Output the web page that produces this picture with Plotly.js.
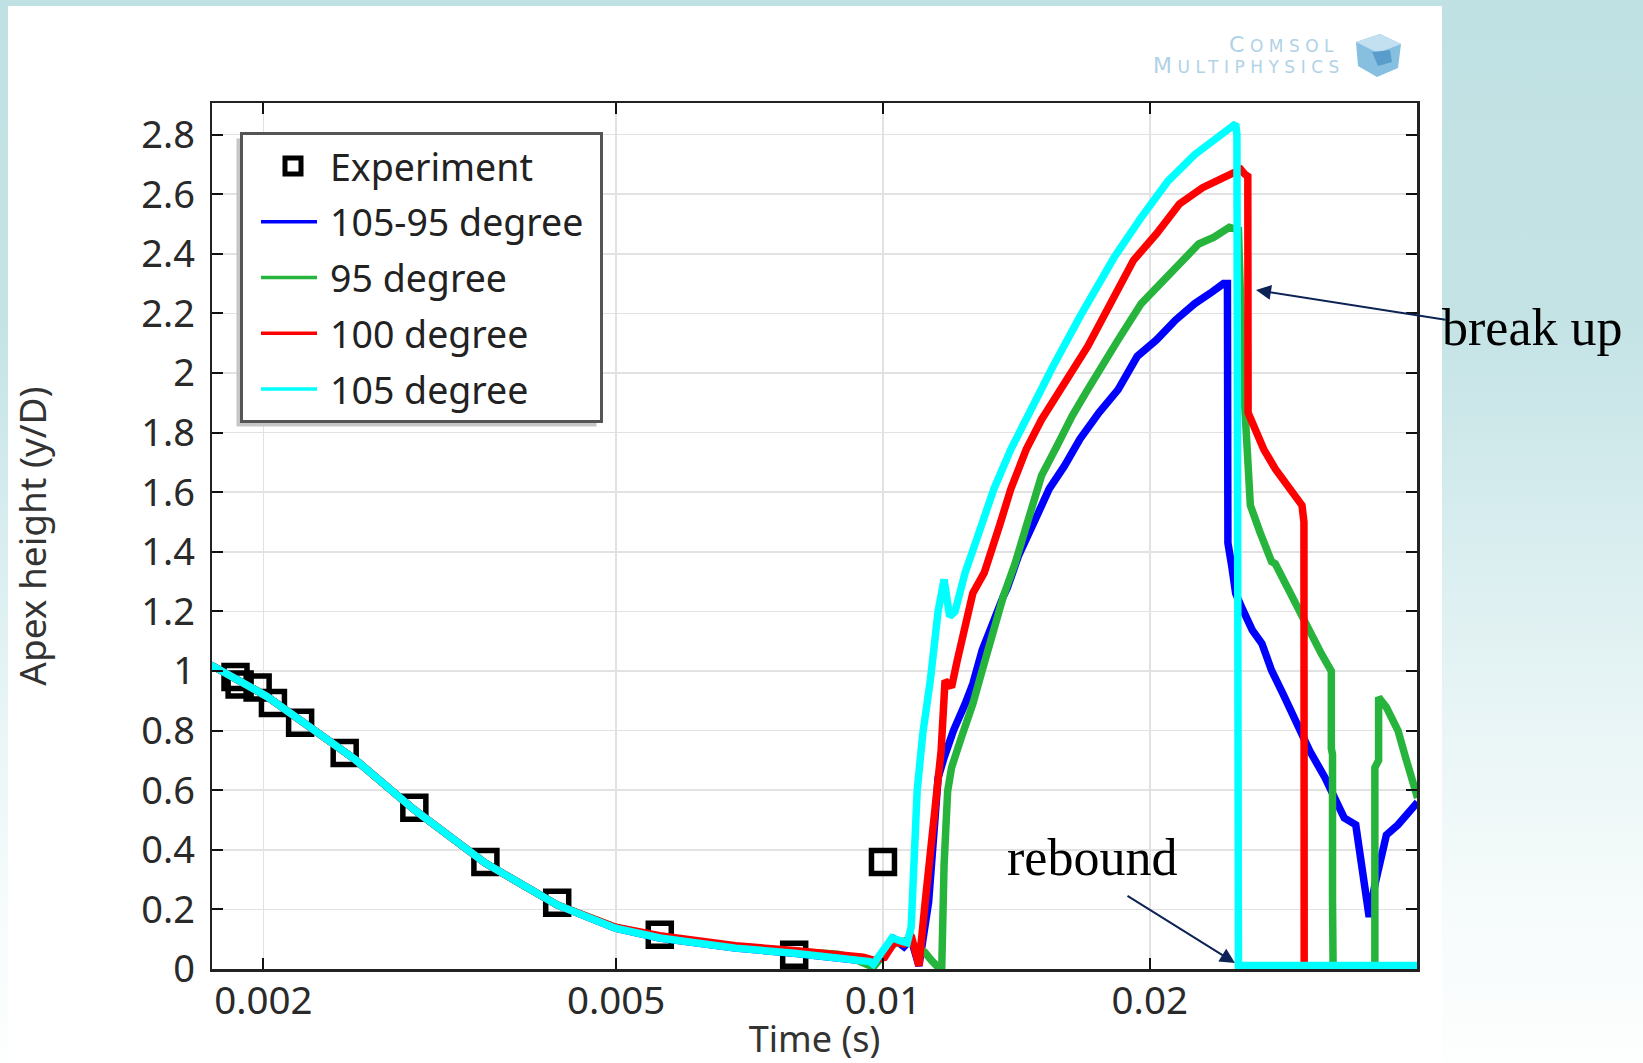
<!DOCTYPE html>
<html>
<head>
<meta charset="utf-8">
<script src="https://cdn.plot.ly/plotly-3.0.1.min.js"></script>
<style>
  html, body { margin:0; padding:0; }
  body {
    width:1643px; height:1063px; overflow:hidden; position:relative;
    background: linear-gradient(to bottom, #c0e1e3 0%, #c4e3e5 30%, #d6ecee 48%, #e9f5f6 68%, #f6fbfb 85%, #fdfefe 100%);
  }
  #panel { position:absolute; left:8px; top:6px; width:1434px; height:1057px; background:#ffffff; }
  #chart { position:absolute; left:0; top:0; width:1643px; height:1063px; }
</style>
</head>
<body>
<div id="panel"></div>
<div id="chart"></div>
<script>
// ---------------- data ----------------
const expTime = [0.00186, 0.00188, 0.00197, 0.00205, 0.00220, 0.00247, 0.00296, 0.00356, 0.00429, 0.00560, 0.00794, 0.01000];
const expHeight = [0.98, 0.955, 0.945, 0.893, 0.826, 0.725, 0.541, 0.359, 0.222, 0.115, 0.048, 0.359];

const blueTime = [0.00174, 0.00176, 0.00202, 0.00226, 0.00254, 0.00296, 0.00356, 0.00429, 0.00499, 0.00560, 0.00682, 0.00794, 0.00890, 0.00966, 0.00975,
  0.01000, 0.01030, 0.01056, 0.01076, 0.01098, 0.01126, 0.01137, 0.01154, 0.01172, 0.01201, 0.01238, 0.01263, 0.01294, 0.01327, 0.01367,
  0.01381, 0.01423, 0.01481, 0.01540, 0.01603, 0.01668, 0.01753, 0.01842, 0.01936, 0.02035, 0.02139, 0.02248, 0.02338, 0.02422, 0.02447,
  0.02450, 0.02475, 0.02500, 0.02547, 0.02610, 0.02676, 0.02744, 0.02827, 0.02926, 0.03030, 0.03153, 0.03249, 0.03314, 0.03415, 0.03448,
  0.03500, 0.03536, 0.03589, 0.03662, 0.03698, 0.03811, 0.03926, 0.03986, 0.04010];
const blueHeight = [1.02, 1.014, 0.914, 0.813, 0.702, 0.534, 0.355, 0.215, 0.137, 0.104, 0.070, 0.053, 0.040, 0.025, 0.016,
  0.050, 0.100, 0.075, 0.100, 0.010, 0.225, 0.394, 0.642, 0.709, 0.800, 0.890, 0.957, 1.070, 1.160, 1.250,
  1.278, 1.389, 1.500, 1.611, 1.689, 1.778, 1.867, 1.944, 2.056, 2.111, 2.178, 2.233, 2.267, 2.300, 2.300,
  1.430, 1.350, 1.260, 1.205, 1.137, 1.092, 1.002, 0.923, 0.822, 0.732, 0.642, 0.552, 0.507, 0.484, 0.394,
  0.282, 0.175, 0.282, 0.417, 0.450, 0.484, 0.529, 0.552, 0.560];

const greenTime = [0.00174, 0.00176, 0.00202, 0.00226, 0.00254, 0.00296, 0.00356, 0.00429, 0.00499, 0.00560, 0.00682, 0.00794, 0.00890, 0.00917, 0.00975,
  0.01007, 0.01029, 0.01065, 0.01092, 0.01115, 0.01135, 0.01154, 0.01165, 0.01172, 0.01183, 0.01195, 0.01226, 0.01263, 0.01294, 0.01327,
  0.01367, 0.01409, 0.01466, 0.01510, 0.01572, 0.01635, 0.01702, 0.01770, 0.01842, 0.01956, 0.02077, 0.02183, 0.02271, 0.02363, 0.02459,
  0.02518, 0.02533, 0.02547, 0.02572, 0.02597, 0.02662, 0.02744, 0.02771, 0.02854, 0.02941, 0.03030, 0.03123, 0.03186, 0.03205, 0.03205,
  0.03215, 0.03215, 0.03220, 0.03589, 0.03589, 0.03624, 0.03624, 0.03698, 0.03811, 0.03887, 0.03966, 0.04010];
const greenHeight = [1.02, 1.014, 0.914, 0.813, 0.702, 0.534, 0.355, 0.215, 0.140, 0.108, 0.076, 0.060, 0.050, 0.040, 0.006,
  0.056, 0.084, 0.096, 0.073, 0.056, 0.028, 0.006, 0.006, 0.349, 0.597, 0.676, 0.777, 0.890, 1.002, 1.115,
  1.250, 1.360, 1.522, 1.656, 1.756, 1.856, 1.944, 2.033, 2.111, 2.233, 2.311, 2.378, 2.433, 2.456, 2.489,
  2.480, 2.120, 2.000, 1.778, 1.556, 1.467, 1.367, 1.360, 1.284, 1.205, 1.137, 1.058, 1.013, 1.000, 0.740,
  0.720, 0.236, 0.005, 0.005, 0.676, 0.700, 0.912, 0.878, 0.800, 0.710, 0.620, 0.574];

const redTime = [0.00174, 0.00176, 0.00202, 0.00226, 0.00254, 0.00296, 0.00356, 0.00429, 0.00499, 0.00560, 0.00682, 0.00794, 0.00890, 0.00950, 0.00975,
  0.01004, 0.01030, 0.01056, 0.01076, 0.01098, 0.01115, 0.01131, 0.01148, 0.01163, 0.01175, 0.01195, 0.01213, 0.01238, 0.01263, 0.01301,
  0.01314, 0.01354, 0.01394, 0.01451, 0.01510, 0.01603, 0.01702, 0.01806, 0.01917, 0.02035, 0.02160, 0.02294, 0.02435, 0.02484, 0.02533,
  0.02560, 0.02580, 0.02582, 0.02610, 0.02689, 0.02771, 0.02854, 0.02970, 0.02985, 0.02987];
const redHeight = [1.02, 1.014, 0.914, 0.813, 0.702, 0.534, 0.355, 0.215, 0.140, 0.112, 0.078, 0.062, 0.050, 0.040, 0.030,
  0.039, 0.090, 0.084, 0.113, 0.011, 0.214, 0.394, 0.574, 0.732, 0.968, 0.946, 1.036, 1.137, 1.261, 1.330,
  1.367, 1.489, 1.611, 1.744, 1.844, 1.967, 2.089, 2.233, 2.378, 2.467, 2.567, 2.622, 2.656, 2.667, 2.683,
  2.667, 2.660, 1.867, 1.833, 1.744, 1.678, 1.622, 1.556, 1.500, 0.005];

const cyanTime = [0.00174, 0.00176, 0.00202, 0.00226, 0.00254, 0.00296, 0.00356, 0.00429, 0.00499, 0.00560, 0.00682, 0.00794, 0.00890, 0.00966, 0.00975,
  0.01024, 0.01045, 0.01065, 0.01076, 0.01082, 0.01093, 0.01109, 0.01131, 0.01154, 0.01165, 0.01172, 0.01180, 0.01189, 0.01206, 0.01238,
  0.01275, 0.01334, 0.01394, 0.01466, 0.01555, 0.01668, 0.01824, 0.01956, 0.02097, 0.02248, 0.02386, 0.02484, 0.02500, 0.02508, 0.02508,
  0.02514, 0.02518, 0.04010];
const cyanHeight = [1.02, 1.014, 0.914, 0.813, 0.702, 0.534, 0.355, 0.215, 0.137, 0.104, 0.070, 0.053, 0.040, 0.025, 0.016,
  0.105, 0.095, 0.088, 0.140, 0.290, 0.600, 0.790, 0.970, 1.200, 1.280, 1.307, 1.250, 1.183, 1.200, 1.330,
  1.440, 1.611, 1.744, 1.878, 2.022, 2.189, 2.389, 2.522, 2.644, 2.733, 2.789, 2.833, 2.836, 2.800, 0.700,
  0.680, 0.012, 0.012];

const seriesNames = ['Experiment', '105-95 degree', '95 degree', '100 degree', '105 degree'];
const xTickVals = [0.002, 0.005, 0.01, 0.02];
const xTickText = ['0.002', '0.005', '0.01', '0.02'];

// ---------------- layout helpers (pixel -> paper) ----------------
const L = 212, T = 103, W = 1205, H = 866;
const px = X => (X - L) / W;
const py = Y => 1 - (Y - T) / H;

const FONT = 'Noto Sans, DejaVu Sans, sans-serif';
const lineW = 7.5;
const LEGEND_EXTRA_W = 11;     // extra right padding of the legend box
const LEGEND_LINE_LEN = 56;    // drawn length of the legend line symbols

const traces = [
  { x: expTime, y: expHeight, name: seriesNames[0], mode: 'markers', type: 'scatter',
    marker: { symbol: 'square-open', size: 23, color: '#000', line: { width: 5.5, color: '#000' } } },
  { x: blueTime, y: blueHeight, name: seriesNames[1], mode: 'lines', type: 'scatter', line: { color: '#0000ff', width: lineW } },
  { x: greenTime, y: greenHeight, name: seriesNames[2], mode: 'lines', type: 'scatter', line: { color: '#27b43c', width: lineW } },
  { x: redTime, y: redHeight, name: seriesNames[3], mode: 'lines', type: 'scatter', line: { color: '#ff0000', width: lineW } },
  { x: cyanTime, y: cyanHeight, name: seriesNames[4], mode: 'lines', type: 'scatter', line: { color: '#00ffff', width: lineW } }
];
traces.forEach((t, i) => { t.legendgroup = 'g' + i; });

function cubePath(pts) {
  return 'M' + pts.map(p => px(p[0]).toFixed(5) + ',' + py(p[1]).toFixed(5)).join('L') + 'Z';
}

const layout = {
  width: 1643, height: 1063,
  margin: { l: L, r: 1643 - L - W, t: T, b: 1063 - T - H, pad: 0 },
  paper_bgcolor: 'rgba(0,0,0,0)',
  plot_bgcolor: '#ffffff',
  showlegend: true,
  legend: {
    x: px(240), y: py(132), xanchor: 'left', yanchor: 'top',
    bgcolor: '#ffffff', bordercolor: '#555555', borderwidth: 3,
    font: { family: FONT, size: 37.5, color: '#222' },
    itemwidth: 64, tracegroupgap: 4, traceorder: 'grouped',
    indentation: 13
  },
  xaxis: {
    type: 'log', range: [-2.757, -1.3975],
    tickvals: xTickVals, ticktext: xTickText,
    ticks: 'inside', ticklen: 11, tickwidth: 2, tickcolor: '#111',
    showline: true, linecolor: '#222', linewidth: 2.5, mirror: 'ticks',
    showgrid: true, gridcolor: '#e2e2e2', gridwidth: 1.5, zeroline: false,
    tickfont: { family: FONT, size: 38.5, color: '#2a2a2a' },
    ticklabelstandoff: -4,
    title: { text: 'Time (s)', font: { family: FONT, size: 36, color: '#333' }, standoff: 22 }
  },
  yaxis: {
    range: [0, 2.906], dtick: 0.2, tick0: 0,
    ticks: 'inside', ticklen: 11, tickwidth: 2, tickcolor: '#111',
    showline: true, linecolor: '#222', linewidth: 2.5, mirror: 'ticks',
    showgrid: true, gridcolor: '#e2e2e2', gridwidth: 1.5, zeroline: false,
    tickfont: { family: FONT, size: 38, color: '#2a2a2a' },
    ticklabelstandoff: 7,
    title: { text: 'Apex height (y/D)', font: { family: FONT, size: 37, color: '#333' }, standoff: 84 }
  },
  shapes: [
    // legend drop shadow (position refined after the legend is measured)
    { type: 'rect', xref: 'paper', yref: 'paper', layer: 'above',
      x0: px(235), x1: px(598), y0: py(430), y1: py(137),
      fillcolor: '#c6c6c6', line: { width: 0 } },
    // COMSOL cube logo
    { type: 'path', xref: 'paper', yref: 'paper', layer: 'above',
      path: cubePath([[1356, 42], [1380, 34], [1401, 44], [1398, 68], [1377, 77], [1358, 66]]),
      fillcolor: '#86bfe0', line: { width: 0 } },
    { type: 'path', xref: 'paper', yref: 'paper', layer: 'above',
      path: cubePath([[1356, 42], [1380, 34], [1401, 44], [1378, 53]]),
      fillcolor: '#c3e0f0', line: { width: 0 } },
    { type: 'path', xref: 'paper', yref: 'paper', layer: 'above',
      path: cubePath([[1372, 52], [1390, 50], [1392, 62], [1378, 66]]),
      fillcolor: '#5a9dcc', line: { width: 0 } }
  ],
  annotations: [
    { xref: 'paper', yref: 'paper', x: px(1341), y: py(45), xanchor: 'right', yanchor: 'middle', showarrow: false,
      text: '<span style="letter-spacing:5.5px"><span style="font-size:22px">C</span>OMSOL</span>',
      font: { family: 'DejaVu Sans', size: 17, color: '#b0d2e7' } },
    { xref: 'paper', yref: 'paper', x: px(1347), y: py(65), xanchor: 'right', yanchor: 'middle', showarrow: false,
      text: '<span style="letter-spacing:5.5px"><span style="font-size:22px">M</span>ULTIPHYSICS</span>',
      font: { family: 'DejaVu Sans', size: 17, color: '#b0d2e7' } },
    { xref: 'paper', yref: 'paper', x: px(1440), y: py(327), xanchor: 'left', yanchor: 'middle', showarrow: false,
      text: 'break up', font: { family: 'Liberation Serif, Times New Roman, serif', size: 52, color: '#000' } },
    { xref: 'paper', yref: 'paper', x: px(1092), y: py(857), xanchor: 'center', yanchor: 'middle', showarrow: false,
      text: 'rebound', font: { family: 'Liberation Serif, Times New Roman, serif', size: 52, color: '#000' } },
    { xref: 'paper', yref: 'paper', x: px(1256), y: py(290), text: '', showarrow: true,
      ax: 191, ay: 30, arrowhead: 2, arrowsize: 1.5, arrowwidth: 2, arrowcolor: '#0d2356', standoff: 0 },
    { xref: 'paper', yref: 'paper', x: px(1235), y: py(963), text: '', showarrow: true,
      ax: -109, ay: -68, arrowhead: 2, arrowsize: 1.5, arrowwidth: 2, arrowcolor: '#0d2356', standoff: 0 }
  ]
};

const gd = document.getElementById('chart');

function styleLegend() {
  gd.querySelectorAll('.legend .legendlines path').forEach(p => {
    p.style.strokeWidth = '3.5px';
    const d = p.getAttribute('d') || '';
    const m = d.match(/^M([\d.\-]+),([\d.\-]+)h([\d.\-]+)$/);
    if (m) p.setAttribute('d', 'M' + m[1] + ',' + m[2] + 'h' + LEGEND_LINE_LEN);
  });
  const bg = gd.querySelector('.legend rect.bg');
  if (bg) {
    const w = parseFloat(bg.getAttribute('width'));
    if (!isNaN(w)) bg.setAttribute('width', w + LEGEND_EXTRA_W);
  }
}

Plotly.newPlot(gd, traces, layout, { displayModeBar: false, staticPlot: true }).then(() => {
  const bg = gd.querySelector('.legend rect.bg');
  if (bg) {
    const r = bg.getBoundingClientRect();
    const c = gd.getBoundingClientRect();
    const x0 = r.left - c.left, y0 = r.top - c.top;
    const w = r.width + LEGEND_EXTRA_W;
    return Plotly.relayout(gd, {
      'shapes[0].x0': px(x0 - 5), 'shapes[0].x1': px(x0 + w - 5),
      'shapes[0].y0': py(y0 + r.height + 5), 'shapes[0].y1': py(y0 + 5)
    });
  }
}).then(styleLegend);
</script>
</body>
</html>
